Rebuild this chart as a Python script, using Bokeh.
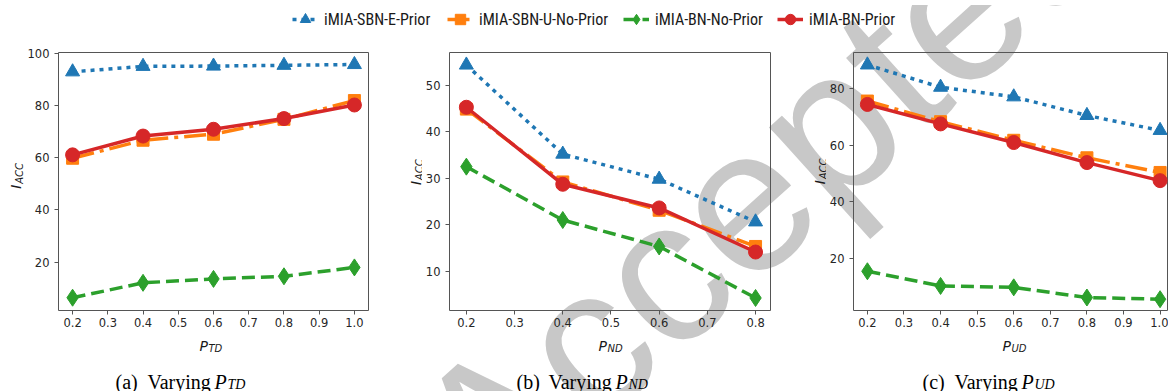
import math
from bokeh.plotting import figure
from bokeh.models import (Range1d, FixedTicker, PrintfTickFormatter, Label, Legend,
                          LegendItem, ColumnDataSource, Div)
from bokeh.layouts import column, row
from bokeh.embed import file_html
from bokeh.resources import INLINE

# ---------------- data ----------------
series_names = ["iMIA-SBN-E-Prior", "iMIA-SBN-U-No-Prior", "iMIA-BN-No-Prior", "iMIA-BN-Prior"]

x_td = [0.2, 0.4, 0.6, 0.8, 1.0]
td_sbn_e_prior = [92.9, 95.0, 95.1, 95.4, 95.7]
td_sbn_u_noprior = [59.8, 66.7, 69.0, 74.7, 81.9]
td_bn_noprior = [6.4, 12.1, 13.6, 14.6, 18.0]
td_bn_prior = [61.1, 68.3, 70.9, 75.0, 80.2]

x_nd = [0.2, 0.4, 0.6, 0.8]
nd_sbn_e_prior = [54.4, 35.2, 29.8, 20.6]
nd_sbn_u_noprior = [44.9, 29.2, 23.1, 15.3]
nd_bn_noprior = [32.5, 21.0, 15.3, 4.2]
nd_bn_prior = [45.3, 28.7, 23.6, 14.1]

x_ud = [0.2, 0.4, 0.6, 0.8, 1.0]
ud_sbn_e_prior = [88.5, 80.6, 77.2, 70.6, 65.3]
ud_sbn_u_noprior = [75.7, 68.4, 61.8, 55.6, 50.4]
ud_bn_noprior = [15.4, 10.2, 9.7, 6.1, 5.5]
ud_bn_prior = [74.5, 67.6, 61.0, 53.9, 47.5]

# ---------------- styles ----------------
COLORS = ["#1f77b4", "#ff7f0e", "#2ca02c", "#d62728"]
DASHES = ["4 5", "22 6 4 6", "13 6", "solid"]
MARKERS = ["triangle", "square", "diamond", "circle"]
MSIZES = [14, 12, 17, 14]
LW = 3.5
FRAME = "#555555"

PAGE_W = 1168
TOP_H = 44
ROW_H = 288
BOT_H = 59
PAGE_H = TOP_H + ROW_H + BOT_H


def win_to_data(g, wx, wy):
    x0, x1 = g["xr"]
    y0, y1 = g["yr"]
    fx0 = g["ox"] + g["left"]
    fy0 = g["oy"] + g["top"]
    fw = g["w"] - g["left"] - g["right"]
    fh = g["h"] - g["top"] - g["bottom"]
    return x0 + (wx - fx0) / fw * (x1 - x0), y1 - (wy - fy0) / fh * (y1 - y0)


def add_text(p, g, wx, wy, text, size, font="DejaVu Sans", style="normal", angle=0.0,
             align="left", baseline="alphabetic", color="#000000"):
    x, y = win_to_data(g, wx, wy)
    p.add_layout(Label(x=x, y=y, text=text, text_font=font, text_font_size=size,
                       text_font_style=style, angle=angle, text_align=align,
                       text_baseline=baseline, text_color=color))


def strip(ox, oy, w, h):
    g = dict(ox=ox, oy=oy, w=w, h=h, left=0, right=0, top=0, bottom=0, xr=(0, w), yr=(h, 0))
    p = figure(width=w, height=h, x_range=Range1d(0, w), y_range=Range1d(h, 0),
               output_backend="svg", toolbar_location=None, title=None,
               x_axis_location=None, y_axis_location=None,
               min_border_left=0, min_border_right=0, min_border_top=0, min_border_bottom=0)
    p.grid.visible = False
    p.outline_line_color = None
    p.background_fill_alpha = 0
    p.border_fill_alpha = 0
    return p, g


def make_panel(g, xs, ys_list, yticks, xticks):
    p = figure(width=g["w"], height=g["h"], x_range=Range1d(*g["xr"]), y_range=Range1d(*g["yr"]),
               output_backend="svg", toolbar_location=None, title=None,
               min_border_left=g["left"], min_border_right=g["right"],
               min_border_top=g["top"], min_border_bottom=g["bottom"])
    p.background_fill_alpha = 0
    p.border_fill_alpha = 0
    p.grid.visible = False
    p.outline_line_color = FRAME
    p.outline_line_width = 1
    p.outline_line_alpha = 1
    for ax in (p.xaxis[0], p.yaxis[0]):
        ax.axis_line_color = None
        ax.major_tick_line_color = FRAME
        ax.major_tick_out = 4
        ax.major_tick_in = 0
        ax.minor_tick_line_color = None
        ax.major_label_text_font = "DejaVu Sans"
        ax.major_label_text_font_size = "11.5px"
        ax.major_label_text_color = "#262626"
    p.xaxis.ticker = FixedTicker(ticks=xticks)
    p.xaxis.formatter = PrintfTickFormatter(format="%.1f")
    p.xaxis.major_label_standoff = 3
    p.yaxis.ticker = FixedTicker(ticks=yticks)
    p.yaxis.formatter = PrintfTickFormatter(format="%d")
    p.yaxis.major_label_standoff = 5

    for i, ys in enumerate(ys_list):
        src = ColumnDataSource(dict(x=xs, y=ys))
        p.line("x", "y", source=src, line_color=COLORS[i], line_width=LW, line_dash=DASHES[i])
        p.scatter("x", "y", source=src, marker=MARKERS[i], size=MSIZES[i],
                  fill_color=COLORS[i], line_color=COLORS[i])
    return p


ROW_Y = TOP_H
ga = dict(ox=24, oy=ROW_Y, w=376, h=ROW_H, left=31, right=32, top=8, bottom=21,
          xr=(0.16, 1.04), yr=(1.5, 100.3))
gb = dict(ox=422, oy=ROW_Y, w=378, h=ROW_H, left=27, right=30, top=4, bottom=21,
          xr=(0.165, 0.831), yr=(1.5, 57.1))
gc = dict(ox=826, oy=ROW_Y, w=342, h=ROW_H, left=27, right=0, top=4, bottom=22,
          xr=(0.162, 1.023), yr=(1.5, 92.9))

pa = make_panel(ga, x_td, [td_sbn_e_prior, td_sbn_u_noprior, td_bn_noprior, td_bn_prior],
                [20, 40, 60, 80, 100], [0.2, 0.3, 0.4, 0.5, 0.6, 0.7, 0.8, 0.9, 1.0])
pb = make_panel(gb, x_nd, [nd_sbn_e_prior, nd_sbn_u_noprior, nd_bn_noprior, nd_bn_prior],
                [10, 20, 30, 40, 50], [0.2, 0.3, 0.4, 0.5, 0.6, 0.7, 0.8])
pc = make_panel(gc, x_ud, [ud_sbn_e_prior, ud_sbn_u_noprior, ud_bn_noprior, ud_bn_prior],
                [20, 40, 60, 80], [0.2, 0.3, 0.4, 0.5, 0.6, 0.7, 0.8, 0.9, 1.0])

# ---------------- y-label strips ----------------
ylab_strips = []
for (ox, w, bx, by) in [(0, 24, 15, 196), (400, 22, 415.5, 192), (800, 26, 819.5, 191)]:
    s, g = strip(ox, ROW_Y, w, ROW_H)
    add_text(s, g, bx, by, "I", "14px", style="italic", angle=math.pi / 2, color="#1a1a1a")
    add_text(s, g, bx + 3.5, by - 5.5, "ACC", "10px", style="italic", angle=math.pi / 2, color="#1a1a1a")
    ylab_strips.append(s)

# ---------------- bottom strip: x labels + captions ----------------
bot, gbot = strip(0, ROW_Y + ROW_H, PAGE_W, BOT_H)
for (sub, px, cx, letter) in [("TD", 199, 115, "a"), ("ND", 598, 516, "b"), ("UD", 1002, 922, "c")]:
    add_text(bot, gbot, px, 345, "P", "14px", style="italic", color="#1a1a1a")
    add_text(bot, gbot, px + 9, 348, sub, "10px", style="italic", color="#1a1a1a")
    cy = 381
    add_text(bot, gbot, cx, cy, "(" + letter + ")", "20px", font="Liberation Serif")
    add_text(bot, gbot, cx + 32, cy, "Varying", "20px", font="Liberation Serif")
    add_text(bot, gbot, cx + 99, cy, "P", "20px", font="Liberation Serif", style="italic")
    add_text(bot, gbot, cx + 112, cy + 3, sub, "14px", font="Liberation Serif", style="italic")

# ---------------- legend strip ----------------
top, gt = strip(0, 0, PAGE_W, TOP_H)
legend_x = [292, 447, 623, 777]
for i, name in enumerate(series_names):
    off = ColumnDataSource(dict(x=[-1e6], y=[-1e6]))
    rl = top.line("x", "y", source=off, line_color=COLORS[i], line_width=LW, line_dash=DASHES[i])
    rs = top.scatter("x", "y", source=off, marker=MARKERS[i], size=MSIZES[i],
                     fill_color=COLORS[i], line_color=COLORS[i])
    lg = Legend(items=[LegendItem(label=name, renderers=[rl, rs])], location=(legend_x[i], 10),
                orientation="horizontal", glyph_width=26, glyph_height=30, label_standoff=6,
                padding=0, margin=0, spacing=0, border_line_color=None, background_fill_alpha=0,
                label_text_font="Liberation Sans Narrow, Roboto Condensed, DejaVu Sans Condensed, Roboto",
                label_text_font_size="16px", label_text_color="#1a1a1a")
    top.add_layout(lg)

# ---------------- watermark (behind the transparent figures, clipped to the page) ----------------
WM_BOX_W, WM_BOX_H = 1000, 240
WM_CX, WM_CY = 758, 178          # centre of the word in page pixels
WM_ANGLE_DEG = 42
inner = ('<div style="position:absolute; left:0px; top:0px; width:%dpx; height:%dpx; '
         'line-height:%dpx; font-size:205px; font-family:\'Liberation Sans\', sans-serif; '
         'color:#c8c8c8; text-align:center; white-space:nowrap; '
         'transform: translate(%dpx, %dpx) rotate(-%ddeg);">Accepted</div>'
         % (WM_BOX_W, WM_BOX_H, WM_BOX_H, WM_CX - WM_BOX_W // 2, WM_CY - WM_BOX_H // 2, WM_ANGLE_DEG))
watermark = Div(text=inner, styles={
    "position": "absolute", "z-index": "-1", "width": "%dpx" % PAGE_W, "height": "%dpx" % PAGE_H,
    "overflow": "hidden", "pointer-events": "none"})

layout = column(top, row(ylab_strips[0], pa, ylab_strips[1], pb, ylab_strips[2], pc), bot, watermark)

with open("out.html", "w") as f:
    f.write(file_html(layout, INLINE))
